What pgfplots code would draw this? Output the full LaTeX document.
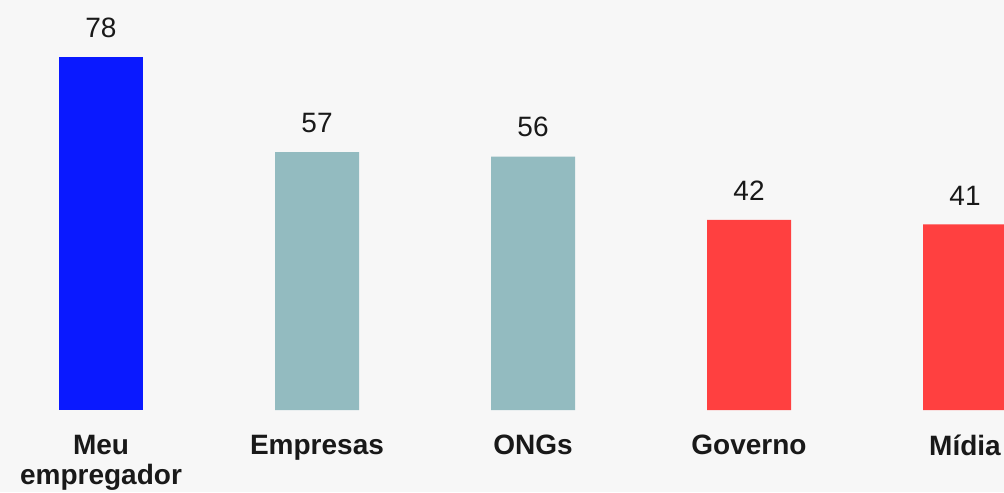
\documentclass[border=0pt]{standalone}
\usepackage{fontspec}
\setmainfont{Liberation Sans}
\usepackage{pgfplots}
\pgfplotsset{compat=1.18}
\definecolor{bg}{HTML}{F7F7F7}
\definecolor{cblue}{HTML}{0A19FF}
\definecolor{cteal}{HTML}{93BBC0}
\definecolor{cred}{HTML}{FF4040}
\begin{document}
\begin{tikzpicture}
\begin{axis}[
 scale only axis, width=502pt, height=246pt,
 xmin=-0.4676, xmax=4.1806, ymin=-18.12, ymax=90.6,
 axis line style={draw=none}, axis background/.style={fill=bg},
 ytick=\empty, xtick={0,1,2,3,4}, major tick length=0pt,
 xticklabels={{Meu\\empregador}, Empresas, ONGs, Governo, Mídia},
 xticklabel style={font=\fontsize{14pt}{15pt}\selectfont\bfseries, align=center, inner sep=0pt, yshift=28.5pt, text=black!90},
 ybar, bar width=42pt, bar shift=0pt,
 /pgf/number format/assume math mode=true,
 nodes near coords, every node near coord/.append style={font=\fontsize{14pt}{16pt}\selectfont, inner sep=0pt, yshift=9.5pt, text=black!90},
]
\addplot[fill=cblue, draw=none] coordinates {(0,78)};
\addplot[fill=cteal, draw=none] coordinates {(1,57) (2,56)};
\addplot[fill=cred, draw=none] coordinates {(3,42) (4,41)};
\end{axis}
\pgfresetboundingbox
\path (current axis.south west) rectangle (current axis.north east);
\end{tikzpicture}
\end{document}
